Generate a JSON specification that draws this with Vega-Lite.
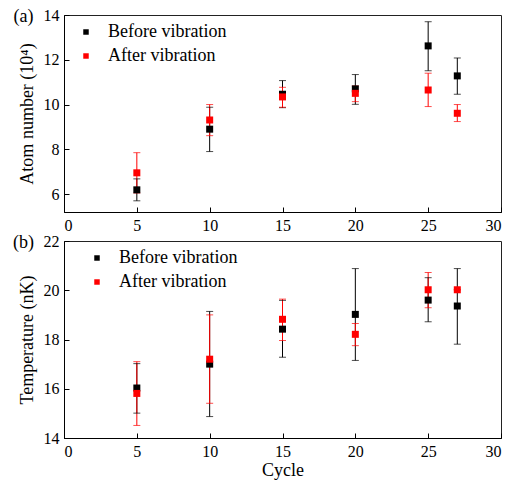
{
  "$schema": "https://vega.github.io/schema/vega-lite/v6.json",
  "background": "white",
  "padding": {"left": 12, "top": 6, "right": 2, "bottom": 2},
  "spacing": 29,
  "bounds": "flush",
  "datasets": {
    "atom": [
      {"cycle": 5, "series": "Before vibration", "value": 6.19, "lo": 5.70, "hi": 6.68},
      {"cycle": 10, "series": "Before vibration", "value": 8.90, "lo": 7.90, "hi": 9.88},
      {"cycle": 15, "series": "Before vibration", "value": 10.46, "lo": 9.86, "hi": 11.07},
      {"cycle": 20, "series": "Before vibration", "value": 10.70, "lo": 10.01, "hi": 11.34},
      {"cycle": 25, "series": "Before vibration", "value": 12.62, "lo": 11.51, "hi": 13.70},
      {"cycle": 27, "series": "Before vibration", "value": 11.28, "lo": 10.46, "hi": 12.08},
      {"cycle": 5, "series": "After vibration", "value": 6.95, "lo": 6.05, "hi": 7.85},
      {"cycle": 10, "series": "After vibration", "value": 9.31, "lo": 8.61, "hi": 10.00},
      {"cycle": 15, "series": "After vibration", "value": 10.34, "lo": 9.88, "hi": 10.77},
      {"cycle": 20, "series": "After vibration", "value": 10.50, "lo": 10.13, "hi": 10.83},
      {"cycle": 25, "series": "After vibration", "value": 10.65, "lo": 9.91, "hi": 11.40},
      {"cycle": 27, "series": "After vibration", "value": 9.61, "lo": 9.24, "hi": 10.00}
    ],
    "temp": [
      {"cycle": 5, "series": "Before vibration", "value": 16.03, "lo": 15.01, "hi": 17.02},
      {"cycle": 10, "series": "Before vibration", "value": 17.00, "lo": 14.87, "hi": 19.14},
      {"cycle": 15, "series": "Before vibration", "value": 18.42, "lo": 17.28, "hi": 19.59},
      {"cycle": 20, "series": "Before vibration", "value": 19.02, "lo": 17.15, "hi": 20.88},
      {"cycle": 25, "series": "Before vibration", "value": 19.60, "lo": 18.72, "hi": 20.51},
      {"cycle": 27, "series": "Before vibration", "value": 19.36, "lo": 17.81, "hi": 20.88},
      {"cycle": 5, "series": "After vibration", "value": 15.81, "lo": 14.51, "hi": 17.10},
      {"cycle": 10, "series": "After vibration", "value": 17.20, "lo": 15.41, "hi": 19.00},
      {"cycle": 15, "series": "After vibration", "value": 18.82, "lo": 17.96, "hi": 19.64},
      {"cycle": 20, "series": "After vibration", "value": 18.21, "lo": 17.75, "hi": 18.65},
      {"cycle": 25, "series": "After vibration", "value": 20.02, "lo": 19.29, "hi": 20.72},
      {"cycle": 27, "series": "After vibration", "value": 20.02, "lo": 20.02, "hi": 20.02}
    ],
    "labelA": [{"label": "(a)"}],
    "labelB": [{"label": "(b)"}]
  },
  "config": {
    "font": "Liberation Serif",
    "view": {"stroke": "#222222", "strokeWidth": 1},
    "axis": {
      "domainColor": "black",
      "domainWidth": 1,
      "tickColor": "black",
      "tickWidth": 1,
      "labelColor": "black",
      "titleColor": "black",
      "labelFont": "Liberation Serif",
      "titleFont": "Liberation Serif",
      "labelFontSize": 16,
      "titleFontSize": 18,
      "titleFontWeight": "normal",
      "grid": false,
      "labelPadding": 10
    },
    "legend": {
      "labelFont": "Liberation Serif",
      "labelFontSize": 18,
      "labelColor": "black",
      "symbolSize": 30,
      "symbolType": "square",
      "symbolOpacity": 1,
      "symbolStrokeWidth": 0,
      "labelOffset": 13,
      "rowPadding": 6,
      "padding": 0
    },
    "text": {"font": "Liberation Serif", "fontSize": 18, "color": "black"}
  },
  "resolve": {"scale": {"color": "independent"}, "legend": {"color": "independent"}},
  "vconcat": [
    {
      "width": 437,
      "height": 197,
      "layer": [
        {
          "data": {"name": "atom"},
          "encoding": {
            "x": {
              "field": "cycle", "type": "quantitative",
              "scale": {"domain": [0, 30], "nice": false},
              "axis": {
                "title": null,
                "values": [0, 2.5, 5, 7.5, 10, 12.5, 15, 17.5, 20, 22.5, 25, 27.5, 30],
                "labelExpr": "datum.value % 5 == 0 ? datum.label : ''",
                "tickSize": {"condition": {"test": "datum.value % 5 != 0", "value": -3}, "value": -5}
              }
            },
            "color": {
              "field": "series", "type": "nominal",
              "scale": {"domain": ["Before vibration", "After vibration"], "range": ["#000000", "#ff0000"]},
              "legend": {"title": null, "orient": "none", "legendX": 13, "legendY": 8}
            }
          },
          "layer": [
            {
              "mark": {"type": "rule", "strokeWidth": 1},
              "encoding": {
                "y": {"field": "lo", "type": "quantitative"},
                "y2": {"field": "hi"}
              }
            },
            {
              "mark": {"type": "tick", "orient": "horizontal", "size": 7, "thickness": 1},
              "encoding": {"y": {"field": "lo", "type": "quantitative"}}
            },
            {
              "mark": {"type": "tick", "orient": "horizontal", "size": 7, "thickness": 1},
              "encoding": {"y": {"field": "hi", "type": "quantitative"}}
            },
            {
              "mark": {"type": "point", "shape": "square", "filled": true, "size": 49, "opacity": 1},
              "encoding": {
                "y": {
                  "field": "value", "type": "quantitative",
                  "scale": {"domain": [5.2, 14], "nice": false, "zero": false},
                  "axis": {
                    "title": "Atom number (10⁴)",
                    "titlePadding": 7,
                    "values": [6, 7, 8, 9, 10, 11, 12, 13, 14],
                    "labelExpr": "datum.value % 2 == 0 ? datum.label : ''",
                    "tickSize": {"condition": {"test": "datum.value % 2 != 0", "value": -3}, "value": -5}
                  }
                }
              }
            }
          ]
        },
        {
          "data": {"name": "labelA"},
          "mark": {"type": "text", "align": "center", "baseline": "middle"},
          "encoding": {
            "x": {"datum": -2.78, "type": "quantitative"},
            "y": {"datum": 13.91, "type": "quantitative"},
            "text": {"field": "label"}
          }
        }
      ]
    },
    {
      "width": 437,
      "height": 197,
      "layer": [
        {
          "data": {"name": "temp"},
          "encoding": {
            "x": {
              "field": "cycle", "type": "quantitative",
              "scale": {"domain": [0, 30], "nice": false},
              "axis": {
                "title": "Cycle",
                "titlePadding": 2,
                "values": [0, 2.5, 5, 7.5, 10, 12.5, 15, 17.5, 20, 22.5, 25, 27.5, 30],
                "labelExpr": "datum.value % 5 == 0 ? datum.label : ''",
                "tickSize": {"condition": {"test": "datum.value % 5 != 0", "value": -3}, "value": -5}
              }
            },
            "color": {
              "field": "series", "type": "nominal",
              "scale": {"domain": ["Before vibration", "After vibration"], "range": ["#000000", "#ff0000"]},
              "legend": {"title": null, "orient": "none", "legendX": 24, "legendY": 8}
            }
          },
          "layer": [
            {
              "mark": {"type": "rule", "strokeWidth": 1},
              "encoding": {
                "y": {"field": "lo", "type": "quantitative"},
                "y2": {"field": "hi"}
              }
            },
            {
              "mark": {"type": "tick", "orient": "horizontal", "size": 7, "thickness": 1},
              "encoding": {"y": {"field": "lo", "type": "quantitative"}}
            },
            {
              "mark": {"type": "tick", "orient": "horizontal", "size": 7, "thickness": 1},
              "encoding": {"y": {"field": "hi", "type": "quantitative"}}
            },
            {
              "mark": {"type": "point", "shape": "square", "filled": true, "size": 49, "opacity": 1},
              "encoding": {
                "y": {
                  "field": "value", "type": "quantitative",
                  "scale": {"domain": [14, 22], "nice": false, "zero": false},
                  "axis": {
                    "title": "Temperature (nK)",
                    "titlePadding": 7,
                    "values": [14, 15, 16, 17, 18, 19, 20, 21, 22],
                    "labelExpr": "datum.value % 2 == 0 ? datum.label : ''",
                    "tickSize": {"condition": {"test": "datum.value % 2 != 0", "value": -3}, "value": -5}
                  }
                }
              }
            }
          ]
        },
        {
          "data": {"name": "labelB"},
          "mark": {"type": "text", "align": "center", "baseline": "middle"},
          "encoding": {
            "x": {"datum": -2.78, "type": "quantitative"},
            "y": {"datum": 21.9, "type": "quantitative"},
            "text": {"field": "label"}
          }
        }
      ]
    }
  ]
}
